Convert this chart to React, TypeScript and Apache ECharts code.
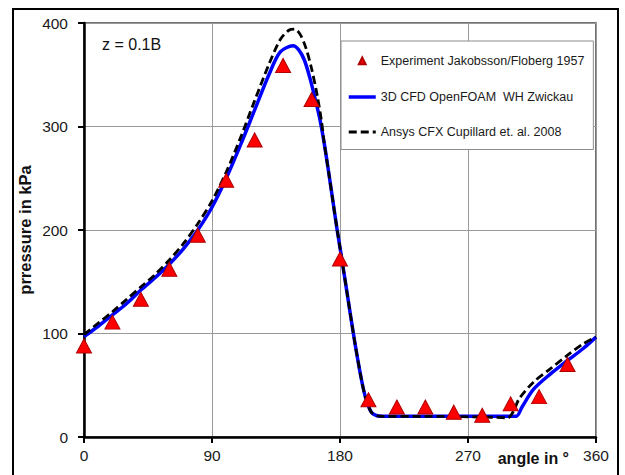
import React, { useEffect, useRef } from "react";
import * as echarts from "echarts";

const xTicks = [0, 90, 180, 270, 360];
const yTicks = [0, 100, 200, 300, 400];

const expAngle = [0, 20, 40, 60, 80, 100, 120, 140, 160, 180, 200, 220, 240, 260, 280, 300, 320, 340];
const expP = [88, 111, 133, 162, 195, 248, 287, 359, 326, 172, 36, 29, 29, 24, 21, 32, 39, 70];

const foamAngle = [0, 10, 20, 30, 40, 50, 60, 70, 80, 90, 100, 110, 120, 130, 138, 147, 151, 155, 159, 163, 166, 169, 172, 175, 178, 180, 185, 190, 195, 198, 202, 206, 210, 240, 270, 300, 304, 308, 316, 328, 340, 351, 360];
const foamP = [97, 107, 118, 129, 142, 154, 167, 182, 200, 222, 250, 282, 316, 350, 372, 378, 374, 364, 346, 324, 306, 283, 256, 228, 200, 183, 139, 95, 56, 38, 24, 20.5, 20, 20, 20, 20, 20, 29, 46, 61, 74, 85.5, 96.5];

const cfxAngle = [0, 10, 20, 30, 40, 50, 60, 70, 80, 90, 100, 110, 120, 130, 138, 144, 148, 152, 156, 160, 164, 167, 169, 172, 175, 178, 180, 185, 190, 195, 198, 202, 206, 210, 240, 270, 290, 298, 302, 306, 316, 328, 340, 351, 360];
const cfxP = [99, 110, 121, 133, 145, 157, 171, 187, 206, 228, 256, 289, 325, 360, 384, 393, 394, 389, 376, 356, 330, 305, 283, 256, 228, 200, 183, 139, 95, 56, 38, 24, 20.5, 20, 20, 19.5, 19, 18.5, 25, 37, 53, 66, 79, 90, 96.5];

const expName = "Experiment Jakobsson/Floberg 1957";
const foamName = "3D CFD OpenFOAM  WH Zwickau";
const cfxName = "Ansys CFX Cupillard et. al. 2008";

const FONT = "'Liberation Sans', Arial, sans-serif";

export default function App() {
  const ref = useRef<HTMLDivElement>(null);

  useEffect(() => {
    if (!ref.current) return;
    const chart = echarts.init(ref.current, null, { renderer: "svg" });
    const zip = (a: number[], b: number[]) => a.map((v, i) => [v, b[i]]);
    chart.setOption({
      animation: false,
      backgroundColor: "#ffffff",
      textStyle: { fontFamily: FONT },
      grid: { left: 84, right: 29, top: 23, bottom: 38, show: true, borderColor: "#444", borderWidth: 1.5 },
      xAxis: {
        type: "value",
        min: xTicks[0],
        max: xTicks[xTicks.length - 1],
        interval: 90,
        name: "angle in °",
        nameLocation: "end",
        nameGap: -27,
        nameMoveOverlap: false,
        nameTextStyle: { fontFamily: FONT, fontSize: 16, fontWeight: "bold", color: "#111", align: "right", verticalAlign: "top", padding: [13, 0, 0, 0] },
        axisLine: { show: true, onZero: false, lineStyle: { color: "#000", width: 2.5 } },
        axisTick: { show: true, length: 6, lineStyle: { color: "#000", width: 2 } },
        axisLabel: { fontFamily: FONT, fontSize: 15.5, color: "#1a1a1a", margin: 10 },
        splitLine: { show: true, lineStyle: { color: "#999", width: 1 } },
      },
      yAxis: {
        type: "value",
        min: yTicks[0],
        max: yTicks[yTicks.length - 1],
        interval: 100,
        name: "prressure in kPa",
        nameLocation: "middle",
        nameGap: 51,
        nameMoveOverlap: false,
        nameTextStyle: { fontFamily: FONT, fontSize: 16.5, fontWeight: "bold", color: "#111" },
        axisLine: { show: true, onZero: false, lineStyle: { color: "#000", width: 2.5 } },
        axisTick: { show: true, length: 6, lineStyle: { color: "#000", width: 2 } },
        axisLabel: { fontFamily: FONT, fontSize: 15.5, color: "#1a1a1a", margin: 16 },
        splitLine: { show: true, lineStyle: { color: "#999", width: 1 } },
      },
      legend: {
        orient: "vertical",
        left: 341,
        top: 41,
        padding: [12, 9, 11, 6],
        itemGap: 22,
        itemWidth: 27,
        itemHeight: 14,
        selectedMode: false,
        backgroundColor: "#fff",
        borderColor: "#8c8c8c",
        borderWidth: 1,
        z: 10,
        textStyle: { fontFamily: FONT, fontSize: 12.5, color: "#1a1a1a" },
        lineStyle: { width: "inherit" },
        data: [
          { name: expName, icon: "path://M0 0M28 14M10.5 10.5L14 3.5L17.5 10.5Z" },
          { name: foamName, itemStyle: { opacity: 0 } },
          { name: cfxName, itemStyle: { opacity: 0 } },
        ],
      },
      graphic: [
        {
          type: "rect",
          silent: true,
          z: 100,
          shape: { x: 13, y: 9, width: 605, height: 480 },
          style: { fill: "none", stroke: "#000", lineWidth: 2 },
        },
        {
          type: "text",
          silent: true,
          x: 102,
          y: 44,
          style: { text: "z = 0.1B", fontFamily: FONT, fontSize: 16, fill: "#111", textVerticalAlign: "middle" },
        },
      ],
      series: [
        {
          name: expName,
          type: "scatter",
          data: zip(expAngle, expP),
          symbol: "triangle",
          symbolSize: [15, 14],
          z: 4,
          itemStyle: { color: "#ff0000", borderColor: "#b00000", borderWidth: 1, opacity: 1 },
        },
        {
          name: foamName,
          type: "line",
          data: zip(foamAngle, foamP),
          smooth: 0.3,
          symbol: "none",
          z: 2,
          lineStyle: { color: "#0000ff", width: 3.5 },
          itemStyle: { color: "#0000ff" },
        },
        {
          name: cfxName,
          type: "line",
          data: zip(cfxAngle, cfxP),
          smooth: 0.3,
          symbol: "none",
          z: 3,
          lineStyle: { color: "#000", width: 2.8, type: [8, 4] },
          itemStyle: { color: "#000" },
        },
      ],
    });
    return () => chart.dispose();
  }, []);

  return <div ref={ref} style={{ position: "fixed", left: 0, top: 0, width: 625, height: 475 }} />;
}
